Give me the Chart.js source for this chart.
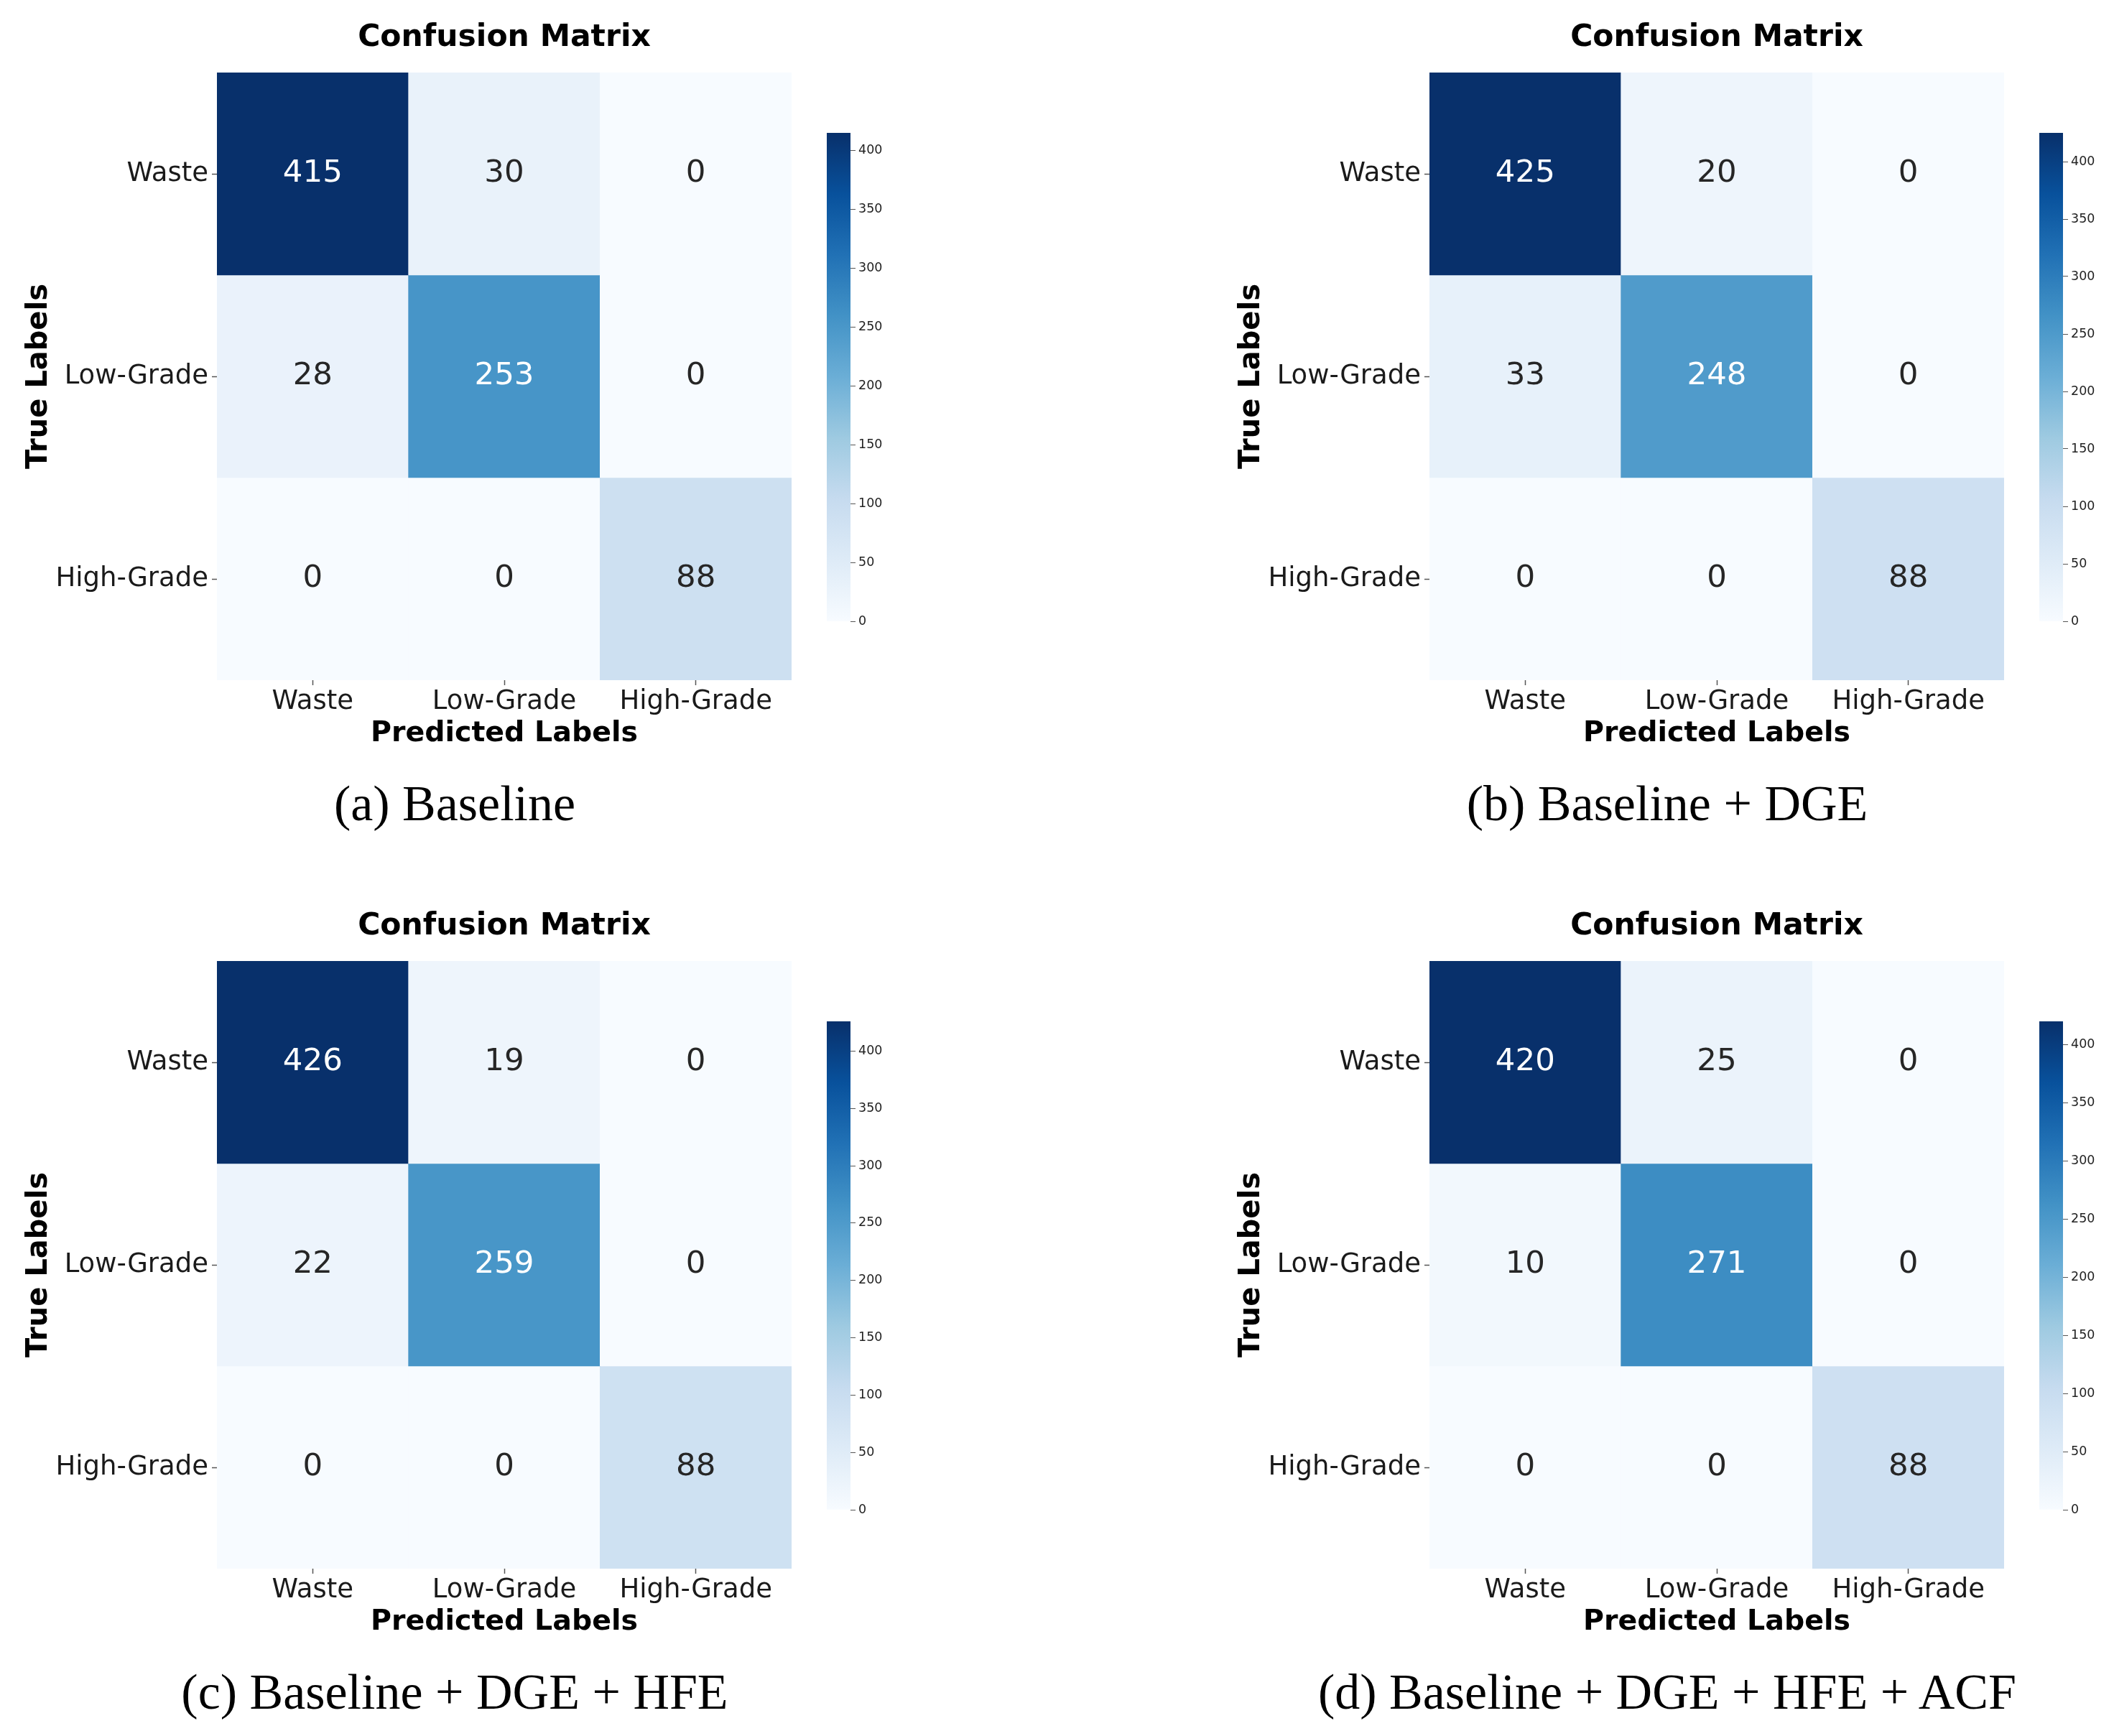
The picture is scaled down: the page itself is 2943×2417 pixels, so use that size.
<!DOCTYPE html>
<html>
<head>
<meta charset="utf-8">
<script src="https://cdn.jsdelivr.net/npm/chart.js@4.4.1/dist/chart.umd.min.js"></script>
<style>
html,body{margin:0;padding:0;background:#fff;}
body{width:2943px;height:2417px;position:relative;overflow:hidden;}
canvas{position:absolute;}
.cap{position:absolute;font-family:"Liberation Serif","Times New Roman",serif;font-size:70px;line-height:70px;white-space:nowrap;text-align:center;width:1000px;color:#000;}
</style>
</head>
<body>
<script>
// ---------------- data ----------------
const predictedLabels = ['Waste', 'Low-Grade', 'High-Grade'];
const trueLabels = ['Waste', 'Low-Grade', 'High-Grade'];
const cmBaseline       = [[415, 30, 0], [28, 253, 0], [0, 0, 88]];
const cmBaselineDGE    = [[425, 20, 0], [33, 248, 0], [0, 0, 88]];
const cmBaselineDGEHFE = [[426, 19, 0], [22, 259, 0], [0, 0, 88]];
const cmBaselineFull   = [[420, 25, 0], [10, 271, 0], [0, 0, 88]];
const panelTitle = 'Confusion Matrix';
const xAxisTitle = 'Predicted Labels';
const yAxisTitle = 'True Labels';
const captions = ['(a) Baseline', '(b) Baseline + DGE', '(c) Baseline + DGE + HFE', '(d) Baseline + DGE + HFE + ACF'];
const colorbarStep = 50;

// ---------------- style / layout ----------------
const FONT = '"DejaVu Sans", "Liberation Sans", sans-serif';
const BLUES = ['#f7fbff','#deebf7','#c6dbef','#9ecae1','#6baed6','#4292c6','#2171b5','#08519c','#08306b'];
const panels = [
  {cm: cmBaseline,       dx: 0,    dy: 0},
  {cm: cmBaselineDGE,    dx: 1688, dy: 0},
  {cm: cmBaselineDGEHFE, dx: 0,    dy: 1237},
  {cm: cmBaselineFull,   dx: 1688, dy: 1237}
];

function hexRgb(h){ return [parseInt(h.slice(1,3),16), parseInt(h.slice(3,5),16), parseInt(h.slice(5,7),16)]; }
function blues(t){
  t = Math.max(0, Math.min(1, t));
  const n = BLUES.length - 1;
  const f = t * n;
  const i = Math.min(Math.floor(f), n - 1);
  const r = f - i;
  const a = hexRgb(BLUES[i]), b = hexRgb(BLUES[i + 1]);
  return [0,1,2].map(k => a[k] + (b[k] - a[k]) * r);
}
function rgbStr(c){ return `rgb(${Math.round(c[0])},${Math.round(c[1])},${Math.round(c[2])})`; }
function luminance(c){
  const lin = c.map(v => { v /= 255; return v <= 0.03928 ? v / 12.92 : Math.pow((v + 0.055) / 1.055, 2.4); });
  return 0.2126 * lin[0] + 0.7152 * lin[1] + 0.0722 * lin[2];
}

const cellTextPlugin = {
  id: 'cellText',
  afterDatasetsDraw(chart, args, opts) {
    const ctx = chart.ctx;
    ctx.save();
    ctx.font = `${opts.size}px ${FONT}`;
    ctx.textAlign = 'center';
    ctx.textBaseline = 'middle';
    chart.data.datasets.forEach((ds, i) => {
      const meta = chart.getDatasetMeta(i);
      meta.data.forEach((el, j) => {
        ctx.fillStyle = ds.textColors[j];
        ctx.fillText(String(ds.counts[j]), el.x, (el.y + el.base) / 2);
      });
    });
    ctx.restore();
  }
};

function makeCanvas(left, top, w, h){
  const c = document.createElement('canvas');
  c.width = w; c.height = h;
  c.style.left = left + 'px'; c.style.top = top + 'px';
  c.style.width = w + 'px'; c.style.height = h + 'px';
  document.body.appendChild(c);
  return c;
}

panels.forEach((p, idx) => {
  const vmax = Math.max(...p.cm.flat());
  // heatmap
  const hc = makeCanvas(p.dx, p.dy, 1140, 1060);
  new Chart(hc, {
    type: 'bar',
    data: {
      labels: predictedLabels,
      datasets: p.cm.map((row, i) => ({
        data: row.map(() => [i, i + 1]),
        counts: row,
        backgroundColor: row.map(v => rgbStr(blues(v / vmax))),
        textColors: row.map(v => luminance(blues(v / vmax)) > 0.408 ? '#262626' : '#ffffff'),
        borderWidth: 0,
        barPercentage: 1,
        categoryPercentage: 1,
        grouped: false
      }))
    },
    options: {
      responsive: false,
      animation: false,
      devicePixelRatio: 1,
      events: [],
      layout: {padding: {left: 0, right: 38, top: 0, bottom: 0}},
      plugins: {
        legend: {display: false},
        tooltip: {enabled: false},
        title: {
          display: true, text: panelTitle, fullSize: false, color: '#000',
          font: {family: FONT, size: 42.5, weight: 'bold'},
          padding: {top: 27, bottom: 23}
        },
        cellText: {size: 43.5}
      },
      scales: {
        x: {
          type: 'category',
          position: 'bottom',
          grid: {display: true, offset: false, drawOnChartArea: false, drawTicks: true, tickLength: 7, tickColor: '#555', tickWidth: 1.5},
          border: {display: false},
          ticks: {color: '#1a1a1a', font: {family: FONT, size: 37}, padding: 1, maxRotation: 0, autoSkip: false},
          title: {display: true, text: xAxisTitle, color: '#000', font: {family: FONT, size: 39.5, weight: 'bold'}, padding: {top: 0, bottom: 14.5}},
          afterFit(s){ s.height = 113; }
        },
        y: {
          type: 'linear',
          position: 'left',
          min: 0, max: 3, reverse: true,
          afterBuildTicks(s){ s.ticks = trueLabels.map((_, i) => ({value: i + 0.5})); },
          grid: {display: true, drawOnChartArea: false, drawTicks: true, tickLength: 7, tickColor: '#555', tickWidth: 1.5},
          border: {display: false},
          ticks: {color: '#1a1a1a', font: {family: FONT, size: 37}, padding: 5, autoSkip: false,
                  callback: (v) => trueLabels[Math.floor(v)]},
          title: {display: true, text: yAxisTitle, color: '#000', font: {family: FONT, size: 40, weight: 'bold'}, padding: {top: 30.7, bottom: 0}},
          afterFit(s){ s.width = 302; }
        }
      }
    },
    plugins: [cellTextPlugin]
  });

  // colorbar
  const cc = makeCanvas(p.dx + 1151, p.dy + 150, 100, 760);
  new Chart(cc, {
    type: 'bar',
    data: {
      labels: [''],
      datasets: [{
        data: [[0, vmax]],
        backgroundColor: (ctx) => {
          const ch = ctx.chart, area = ch.chartArea;
          if (!area) return BLUES[4];
          const g = ch.ctx.createLinearGradient(0, area.bottom, 0, area.top);
          BLUES.forEach((c, k) => g.addColorStop(k / (BLUES.length - 1), c));
          return g;
        },
        borderWidth: 0,
        barPercentage: 1,
        categoryPercentage: 1
      }]
    },
    options: {
      responsive: false,
      animation: false,
      devicePixelRatio: 1,
      events: [],
      layout: {padding: {left: 0, right: 0, top: 35, bottom: 45}},
      plugins: {legend: {display: false}, tooltip: {enabled: false}},
      scales: {
        x: {display: false},
        y: {
          position: 'right', min: 0, max: vmax,
          ticks: {stepSize: colorbarStep, includeBounds: false, color: '#222', font: {family: FONT, size: 17.5}, padding: 4},
          grid: {display: true, drawOnChartArea: false, drawTicks: true, tickLength: 7, tickColor: '#555', tickWidth: 1},
          border: {display: false},
          afterFit(s){ s.width = 67; }
        }
      }
    }
  });

  // caption
  const d = document.createElement('div');
  d.className = 'cap';
  d.textContent = captions[idx];
  d.style.left = (p.dx + 633 - 500) + 'px';
  d.style.top = (p.dy + 1084) + 'px';
  document.body.appendChild(d);
});
</script>
</body>
</html>
